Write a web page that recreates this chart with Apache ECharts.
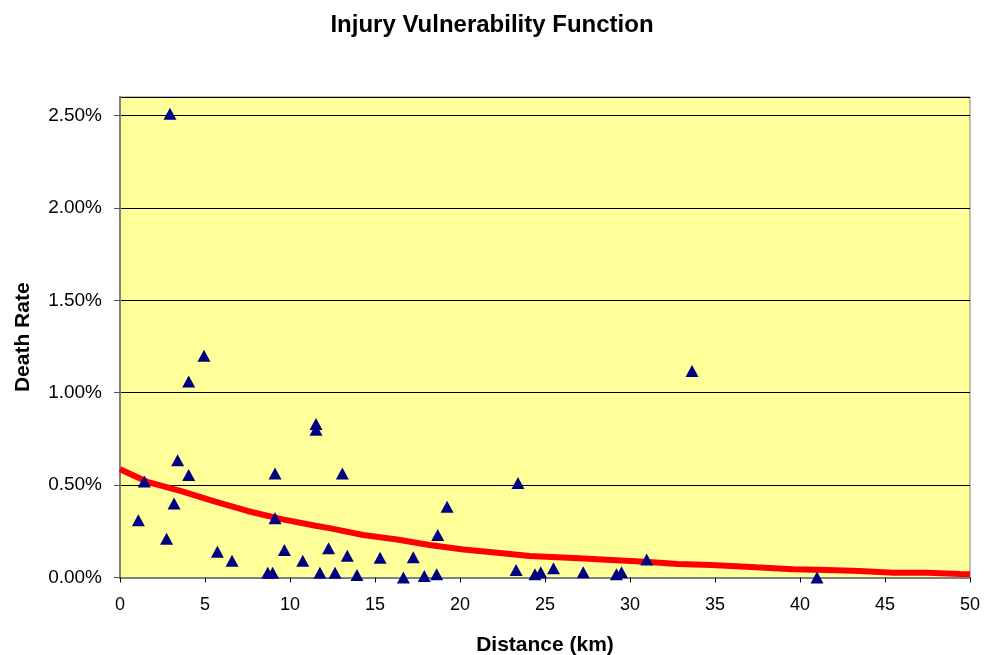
<!DOCTYPE html>
<html>
<head>
<meta charset="utf-8">
<script src="https://cdn.jsdelivr.net/npm/echarts@6/dist/echarts.min.js"></script>
<style>
html,body{margin:0;padding:0;background:#fff;}
#chart{width:984px;height:655px;}
</style>
</head>
<body>
<div id="chart"></div>
<script>
// Observed data: distance (km) and death rate (%)
const obsDistance = [1.08, 1.43, 2.74, 2.94, 3.18, 3.39, 4.04, 4.04, 4.94, 5.73, 6.59, 8.69, 8.98, 9.12, 9.12, 9.67, 10.75, 11.53, 11.53, 11.76, 12.27, 12.65, 13.08, 13.37, 13.94, 15.3, 16.67, 17.25, 17.9, 18.63, 18.69, 19.24, 23.3, 23.41, 24.41, 24.75, 25.5, 27.25, 29.2, 29.5, 30.98, 33.65, 41.0];
const obsDeathRate = [0.31, 0.52, 0.21, 2.51, 0.40, 0.635, 1.06, 0.554, 1.20, 0.14, 0.09, 0.026, 0.026, 0.32, 0.563, 0.149, 0.09, 0.83, 0.80, 0.026, 0.158, 0.026, 0.563, 0.118, 0.014, 0.107, 0.0, 0.109, 0.008, 0.017, 0.23, 0.383, 0.04, 0.512, 0.017, 0.028, 0.05, 0.028, 0.017, 0.028, 0.098, 1.118, 0.0];

// Fitted vulnerability curve
const fitDistance = [0, 1.6, 3.6, 5.6, 7.5, 9.5, 11.5, 12.4, 14.3, 16.3, 18.2, 20.2, 22.2, 24.1, 27.0, 28.9, 30.9, 32.8, 34.8, 36.8, 39.6, 41.6, 43.5, 45.5, 47.5, 49.4, 50];
const fitDeathRate = [0.586, 0.518, 0.467, 0.41, 0.36, 0.316, 0.28, 0.266, 0.23, 0.206, 0.176, 0.152, 0.134, 0.116, 0.104, 0.095, 0.085, 0.073, 0.068, 0.058, 0.044, 0.04, 0.035, 0.026, 0.026, 0.019, 0.018];

const xTicks = [0, 5, 10, 15, 20, 25, 30, 35, 40, 45, 50];
const yTicks = [0, 0.5, 1.0, 1.5, 2.0, 2.5];

const FONT = 'Liberation Sans, Arial, sans-serif';
const chart = echarts.init(document.getElementById('chart'));
chart.setOption({
  backgroundColor: '#ffffff',
  animation: false,
  title: {
    text: 'Injury Vulnerability Function',
    left: 'center',
    top: 8,
    textStyle: {fontFamily: FONT, fontSize: 24, fontWeight: 'bold', color: '#000'}
  },
  grid: {left: 120, right: 14, top: 97, bottom: 77.5, show: true, backgroundColor: '#FFFF99', borderColor: '#808080', borderWidth: 1, outerBoundsMode: 'none', containLabel: false},
  xAxis: [{
    type: 'value', min: xTicks[0], max: xTicks[xTicks.length - 1], interval: 5,
    name: 'Distance (km)', nameLocation: 'middle', nameGap: 57,
    nameTextStyle: {fontFamily: FONT, fontSize: 21, fontWeight: 'bold', color: '#000'},
    axisLine: {show: true, lineStyle: {color: '#000', width: 1}},
    axisTick: {show: true, length: 5, lineStyle: {color: '#000'}},
    axisLabel: {fontFamily: FONT, fontSize: 18, color: '#000', margin: 19},
    splitLine: {show: false}
  }, {
    type: 'value', position: 'top', min: 0, max: 50,
    axisLine: {show: true, lineStyle: {color: '#808080', width: 2}},
    axisTick: {show: false}, axisLabel: {show: false}, splitLine: {show: false}
  }],
  yAxis: [{
    type: 'value', min: 0, max: 2.6, interval: 0.5,
    name: 'Death Rate', nameLocation: 'middle', nameGap: 86, nameRotate: 90,
    nameTextStyle: {fontFamily: FONT, fontSize: 21, fontWeight: 'bold', color: '#000'},
    axisLine: {show: true, lineStyle: {color: '#555', width: 2}},
    axisTick: {show: true, length: 6, lineStyle: {color: '#555'}},
    axisLabel: {fontFamily: FONT, fontSize: 19, color: '#000', margin: 18, showMaxLabel: false,
      formatter: v => v.toFixed(2) + '%'},
    splitLine: {show: true, lineStyle: {color: '#000', width: 1}}
  }, {
    type: 'value', position: 'right', min: 0, max: 2.6,
    axisLine: {show: true, lineStyle: {color: '#808080', width: 2}},
    axisTick: {show: false}, axisLabel: {show: false}, splitLine: {show: false}
  }],
  series: [{
    type: 'line',
    data: fitDistance.map((x, i) => [x, fitDeathRate[i]]),
    showSymbol: false, symbol: 'none',
    lineStyle: {color: '#FF0000', width: 6},
    z: 2
  }, {
    type: 'scatter',
    data: obsDistance.map((x, i) => [x, obsDeathRate[i]]),
    symbol: 'triangle', symbolSize: [13, 12],
    itemStyle: {color: '#000080', opacity: 1},
    clip: false,
    z: 3
  }]
});
</script>
</body>
</html>
